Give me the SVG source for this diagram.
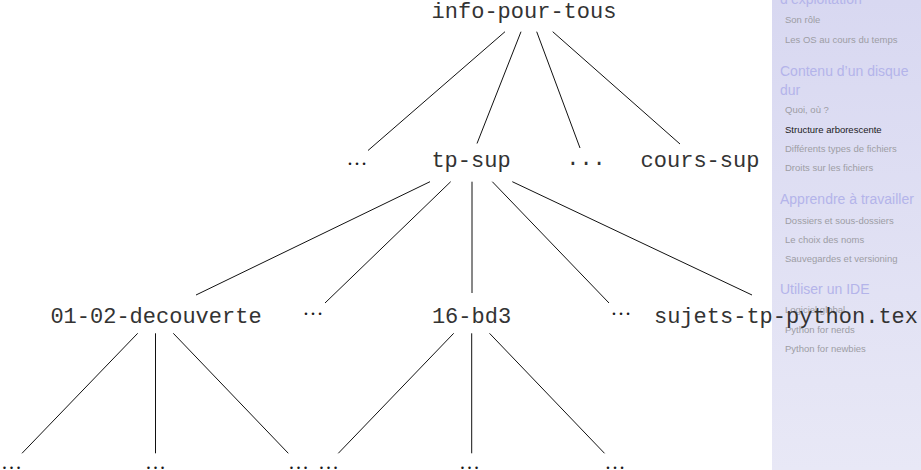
<svg xmlns="http://www.w3.org/2000/svg" width="921" height="470" viewBox="0 0 921 470">
<defs>
<linearGradient id="sb" x1="0" y1="0" x2="0" y2="1">
<stop offset="0" stop-color="#d8d8f1"/>
<stop offset="1" stop-color="#e8e8f6"/>
</linearGradient>
<style>
.mono{font-family:"Liberation Mono","DejaVu Sans Mono",monospace;font-size:22px;fill:#333;text-anchor:middle}
.dots{font-family:"Liberation Serif","DejaVu Serif",serif;font-size:21px;fill:#1a1a1a;text-anchor:middle}
.sec{font-family:"Liberation Sans",Arial,sans-serif;font-size:14px;fill:#b4b4ea}
.sub{font-family:"Liberation Sans",Arial,sans-serif;font-size:9.5px;fill:#9d9da4}
.cur{font-family:"Liberation Sans",Arial,sans-serif;font-size:9.5px;fill:#1a1a1a}
.edge{stroke:#111;stroke-width:1;fill:none}
</style>
</defs>
<rect x="0" y="0" width="921" height="470" fill="#ffffff"/>
<g id="sidebar">
<rect x="772" y="0" width="149" height="470" fill="url(#sb)"/>
<text class="sec" x="780" y="4">d’exploitation</text>
<text class="sub" x="785" y="23">Son rôle</text>
<text class="sub" x="785" y="42.5">Les OS au cours du temps</text>
<text class="sec" x="780" y="76">Contenu d’un disque</text>
<text class="sec" x="780" y="95">dur</text>
<text class="sub" x="785" y="113">Quoi, où ?</text>
<text class="cur" x="785" y="132.5">Structure arborescente</text>
<text class="sub" x="785" y="152">Différents types de fichiers</text>
<text class="sub" x="785" y="170.5">Droits sur les fichiers</text>
<text class="sec" x="780" y="203.5">Apprendre à travailler</text>
<text class="sub" x="785" y="224">Dossiers et sous-dossiers</text>
<text class="sub" x="785" y="242.5">Le choix des noms</text>
<text class="sub" x="785" y="262">Sauvegardes et versioning</text>
<text class="sec" x="780" y="294">Utiliser un IDE</text>
<text class="sub" x="785" y="313">Logiciel global</text>
<text class="sub" x="785" y="333">Python for nerds</text>
<text class="sub" x="785" y="352">Python for newbies</text>
</g>
<g id="connectors">
<line class="edge" x1="505" y1="31.7" x2="368" y2="150.5"/>
<line class="edge" x1="521" y1="31.7" x2="477" y2="143.5"/>
<line class="edge" x1="536.7" y1="31.7" x2="580" y2="148"/>
<line class="edge" x1="552.7" y1="31.7" x2="680" y2="144"/>
<line class="edge" x1="430" y1="181.7" x2="196" y2="295"/>
<line class="edge" x1="450.7" y1="181.7" x2="325" y2="303"/>
<line class="edge" x1="472" y1="181.7" x2="472" y2="293"/>
<line class="edge" x1="492.3" y1="181.7" x2="609" y2="303"/>
<line class="edge" x1="512.3" y1="181.7" x2="752" y2="295"/>
<line class="edge" x1="137.7" y1="333.3" x2="22" y2="453.3"/>
<line class="edge" x1="155.5" y1="333.3" x2="155.5" y2="453.3"/>
<line class="edge" x1="173.3" y1="333.3" x2="288.3" y2="453.3"/>
<line class="edge" x1="453.7" y1="333.3" x2="338.3" y2="453.3"/>
<line class="edge" x1="471.7" y1="333.3" x2="471.7" y2="453.3"/>
<line class="edge" x1="489.5" y1="333.3" x2="604.5" y2="453.3"/>
</g>
<g id="n-root"><text class="mono" x="524" y="18.3">info-pour-tous</text></g>
<g id="n-l2a"><text class="dots" x="357" y="165">…</text></g>
<g id="n-tpsup"><text class="mono" x="471" y="167">tp-sup</text></g>
<g id="n-l2c"><text class="mono" x="586" y="165">...</text></g>
<g id="n-courssup"><text class="mono" x="700" y="167">cours-sup</text></g>
<g id="n-decouverte"><text class="mono" x="156" y="322.5">01-02-decouverte</text></g>
<g id="n-l3b"><text class="dots" x="313" y="315">…</text></g>
<g id="n-bd3"><text class="mono" x="471.5" y="322.5">16-bd3</text></g>
<g id="n-l3d"><text class="dots" x="621" y="315">…</text></g>
<g id="n-sujets"><text class="mono" x="786" y="322.5">sujets-tp-python.tex</text></g>
<g id="n-b1"><text class="dots" x="11.5" y="468.5">…</text></g>
<g id="n-b2"><text class="dots" x="155.5" y="468.5">…</text></g>
<g id="n-b3"><text class="dots" x="298.5" y="468.5">…</text></g>
<g id="n-b4"><text class="dots" x="328.5" y="468.5">…</text></g>
<g id="n-b5"><text class="dots" x="469.5" y="468.5">…</text></g>
<g id="n-b6"><text class="dots" x="615" y="468.5">…</text></g>
</svg>
